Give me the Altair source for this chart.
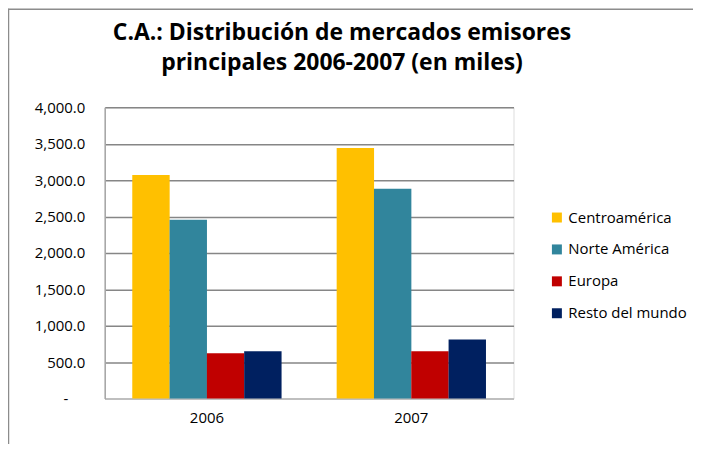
import altair as alt
import pandas as pd

years = ["2006", "2007"]
series = ["Centroamérica", "Norte América", "Europa", "Resto del mundo"]
colors = ["#FFC000", "#31859C", "#C00000", "#002060"]
centroamerica = [3072, 3442]
norte_america = [2456, 2881]
europa = [622, 650]
resto_mundo = [648, 812]
title_lines = ["C.A.: Distribución de mercados emisores", "principales 2006-2007 (en miles)"]

rows = []
for s, vals in zip(series, [centroamerica, norte_america, europa, resto_mundo]):
    for y, v in zip(years, vals):
        rows.append({"year": y, "serie": s, "value": v})
df = pd.DataFrame(rows)

FONT = "Open Sans"

bars = alt.Chart(df).mark_bar(size=37.5).encode(
    x=alt.X("year:N", sort=years,
            scale=alt.Scale(paddingInner=0.27, paddingOuter=0.135),
            axis=alt.Axis(title=None, labelAngle=0, labelFontSize=15, labelFont=FONT,
                          labelColor="#000000", ticks=False, domainColor="#BFBFBF",
                          domainWidth=2, labelPadding=12, grid=False)),
    xOffset=alt.XOffset("serie:N", sort=series, scale=alt.Scale(paddingInner=0, paddingOuter=0)),
    y=alt.Y("value:Q", scale=alt.Scale(domain=[0, 4000], nice=False),
            axis=alt.Axis(title=None, values=[0, 500, 1000, 1500, 2000, 2500, 3000, 3500, 4000],
                          labelExpr="datum.value == 0 ? '-' : format(datum.value, ',.1f')",
                          labelFontSize=15, labelFont=FONT, labelColor="#000000",
                          labelPadding={"condition": {"test": "datum.value == 0", "value": 37}, "value": 20},
                          ticks=False, domainColor="#A6A6A6", domainWidth=1.5,
                          gridColor="#868686", gridWidth=1.5)),
    color=alt.Color("serie:N", sort=series,
                    scale=alt.Scale(domain=series, range=colors),
                    legend=alt.Legend(title=None, orient="none", legendX=446, legendY=103,
                                      symbolType="square", symbolSize=100, symbolStrokeWidth=0,
                                      labelFontSize=15, labelFont=FONT, labelColor="#000000",
                                      rowPadding=16, labelOffset=4)),
)

one = alt.Data(values=[{}])
frame = alt.Chart(one).mark_rule(color="#8C8C8C", strokeWidth=1.5).encode(
    x=alt.value(-96.5), y=alt.value(-99), y2=alt.value(340)
)
frame_top = alt.Chart(one).mark_rule(color="#8C8C8C", strokeWidth=1.5).encode(
    x=alt.value(-97), x2=alt.value(600), y=alt.value(-98.5)
)
title1 = alt.Chart(one).mark_text(
    text=title_lines[0], font=FONT, fontSize=23, fontWeight="bold", color="#000000",
    align="center", baseline="alphabetic"
).encode(x=alt.value(238), y=alt.value(-68))
title2 = alt.Chart(one).mark_text(
    text=title_lines[1], font=FONT, fontSize=23, fontWeight="bold", color="#000000",
    align="center", baseline="alphabetic"
).encode(x=alt.value(238), y=alt.value(-37))

chart = alt.layer(bars, frame, frame_top, title1, title2).properties(
    width=410, height=292,
    autosize=alt.AutoSizeParams(type="none"),
    padding={"left": 97, "top": 99, "right": 180, "bottom": 45},
).configure_view(stroke=None).configure(background="#FFFFFF")

chart.save("out.html", embed_options={"renderer": "svg", "actions": False})
